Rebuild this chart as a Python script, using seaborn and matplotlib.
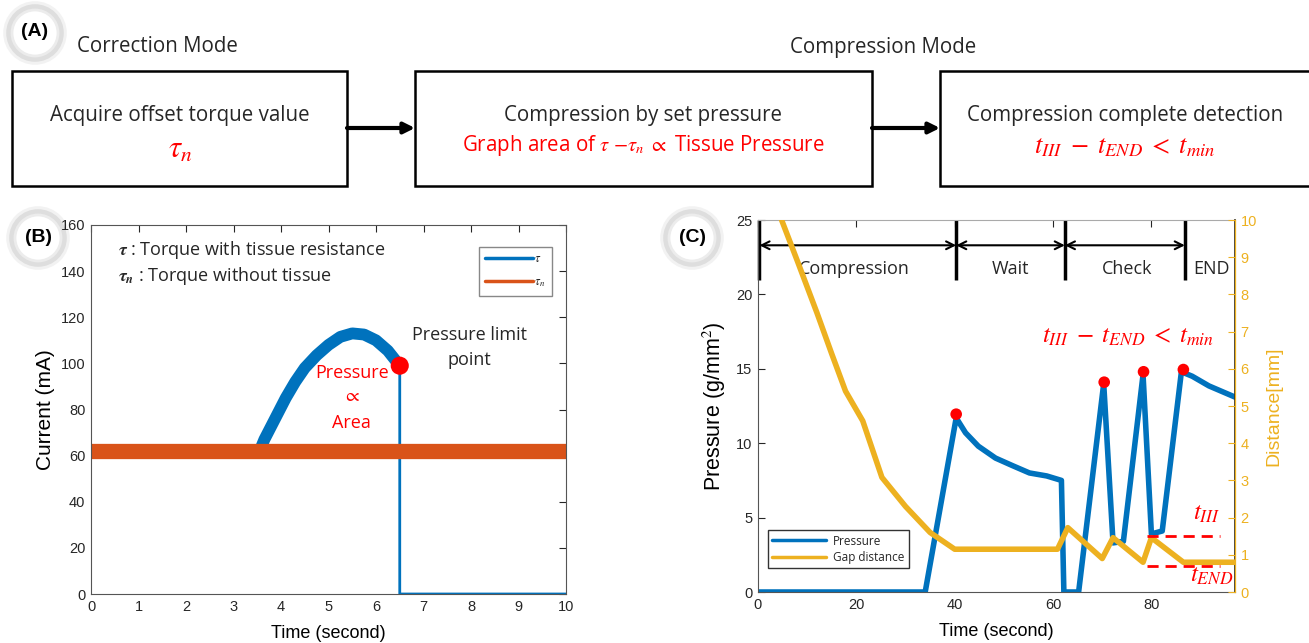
import numpy as np
import pandas as pd
import matplotlib
matplotlib.use("Agg")
import matplotlib.pyplot as plt
import seaborn as sns
from matplotlib.patches import Rectangle, Circle
from matplotlib.lines import Line2D

# ---------------- data ----------------
# Panel B : current vs time
tau_time = [0, 3.55, 3.65, 3.8, 3.95, 4.1, 4.3, 4.5, 4.75, 5.0, 5.25, 5.5,
            5.75, 6.0, 6.25, 6.5, 6.5, 10]
tau_current = [62, 62, 67, 73, 79, 85, 92, 98, 103.5, 108, 111.5, 113,
               112.5, 110, 105.5, 99, 0, 0]
taun_time = [0, 10]
taun_current = [62, 62]
limit_time = [6.5]
limit_current = [99]

# Panel C : pressure & gap distance vs time
p_time = [0, 34, 40.3, 42.2, 44.8, 48.3, 51.7, 55.2, 58.7, 61.7, 62.2, 65.2,
          70.3, 72.2, 74.3, 78.3, 80.0, 82.2, 86.1, 88.3, 91.7, 97]
p_value = [0, 0, 11.7, 10.7, 9.8, 9.0, 8.5, 8.0, 7.8, 7.5, 0, 0,
           14.0, 3.3, 3.4, 14.6, 3.9, 4.1, 14.8, 14.5, 13.85, 13.1]
gap_time = [4.8, 8, 12, 15, 17.8, 21.3, 25.2, 30, 35, 40, 60.9, 63, 70,
            72.2, 78.3, 80, 86.5, 97]
gap_dist = [10, 8.9, 7.5, 6.4, 5.4, 4.6, 3.08, 2.3, 1.6, 1.15, 1.15, 1.73,
            0.9, 1.46, 0.8, 1.46, 0.8, 0.8]
peak_time = [40.3, 70.4, 78.4, 86.5]
peak_value = [11.95, 14.1, 14.8, 14.95]
phase_bounds = [0.3, 40.3, 62.4, 86.8]
phase_names = ["Compression", "Wait", "Check", "END"]
t3_level = 1.5      # distance [mm]
tend_level = 0.7    # distance [mm]

# ---------------- style ----------------
sns.set_theme(style="white")
plt.rcParams['font.family'] = ['Liberation Sans', 'DejaVu Sans']
plt.rcParams['mathtext.fontset'] = 'stix'

BLUE = '#0072BD'
ORANGE = '#D95319'
YELLOW = '#EDB120'
RED = '#FF0000'
TXT = 'Open Sans'
GRAY = '#262626'

W, H = 1309, 643
fig = plt.figure(figsize=(W / 100, H / 100), dpi=100)

# overlay axes in pixel coordinates (panel A + panel labels)
ax0 = fig.add_axes([0, 0, 1, 1])
ax0.set_xlim(0, W)
ax0.set_ylim(H, 0)
ax0.axis('off')

def label_circle(cx, cy, txt):
    for r, c, lw in [(29, '#f2f2f2', 4), (26, '#dedede', 4), (23, '#ececec', 2)]:
        ax0.add_patch(Circle((cx, cy), r, fc='none', ec=c, lw=lw))
    ax0.add_patch(Circle((cx, cy), 21, fc='white', ec='none'))
    ax0.text(cx, cy - 1, txt, ha='center', va='center', fontsize=14,
             fontweight='bold', color='black')

label_circle(35, 33, '(A)')
label_circle(38, 238, '(B)')
label_circle(692, 238, '(C)')

FA = 14.8
ax0.text(77, 47, 'Correction Mode', fontsize=FA, family=TXT, va='center', ha='left')
ax0.text(883, 47, 'Compression Mode', fontsize=FA, family=TXT, va='center', ha='center')

boxes = [(12, 347), (415, 872), (940, 1315)]
for x0, x1 in boxes:
    ax0.add_patch(Rectangle((x0, 71), x1 - x0, 115, fc='white', ec='black', lw=1.8))
for xa, xb in [(347, 415), (872, 940)]:
    ax0.annotate('', xy=(xb, 128), xytext=(xa, 128),
                 arrowprops=dict(arrowstyle='-|>', lw=3, color='black',
                                 mutation_scale=16, shrinkA=0, shrinkB=0))

ax0.text(180, 116, 'Acquire offset torque value', fontsize=FA, family=TXT,
         ha='center', va='center')
ax0.text(180, 150, r'$\tau_n$', fontsize=22, color=RED, ha='center', va='center')
ax0.text(643, 116, 'Compression by set pressure', fontsize=FA, family=TXT,
         ha='center', va='center')
ax0.text(643, 145, r'Graph area of $\tau\ {-}\tau_n$ $\propto$ Tissue Pressure',
         fontsize=FA, family=TXT, color=RED, ha='center', va='center')
ax0.text(1125, 116, 'Compression complete detection', fontsize=FA, family=TXT,
         ha='center', va='center')
ax0.text(1125, 147, r'$t_{III}\;-\;t_{END}\;<\;t_{min}$', fontsize=19, color=RED,
         ha='center', va='center')

# ---------------- panel B ----------------
axB = fig.add_axes([91 / W, (H - 594) / H, (566 - 91) / W, (594 - 225) / H])
sns.lineplot(x=tau_time, y=tau_current, ax=axB, color=BLUE, lw=2,
             sort=False, estimator=None, label=r'$\tau$')
sns.lineplot(x=tau_time[1:16], y=tau_current[1:16], ax=axB, color=BLUE, lw=8.5,
             sort=False, estimator=None, legend=False)
sns.lineplot(x=taun_time, y=taun_current, ax=axB, color=ORANGE, lw=11,
             sort=False, estimator=None, label=r'$\tau_n$')
sns.scatterplot(x=limit_time, y=limit_current, ax=axB, color=RED, s=170,
                edgecolor='none', zorder=5, legend=False)
axB.set_xlim(0, 10)
axB.set_ylim(0, 160)
axB.set_xticks(range(0, 11))
axB.set_yticks(range(0, 161, 20))
axB.set_xlabel('Time (second)', fontsize=13, color='black', labelpad=8)
axB.set_ylabel('Current (mA)', fontsize=15, color='black', labelpad=4)
axB.tick_params(direction='in', top=True, right=True, length=5, width=0.8,
                labelsize=10.5, labelcolor=GRAY, color=GRAY, pad=4)
for s in axB.spines.values():
    s.set_color('#555555')
    s.set_linewidth(0.8)
leg = axB.legend(loc='upper right', bbox_to_anchor=(0.983, 0.957), fontsize=9,
                 handlelength=3.8, frameon=True, fancybox=False, edgecolor='#888888',
                 framealpha=1, borderpad=0.5, labelspacing=0.9, handletextpad=0.1)
for ln in leg.get_lines():
    ln.set_linewidth(2.5)

axB.text(0.56, 149, r'$\boldsymbol{\tau}$ : Torque with tissue resistance',
         fontsize=13, family=TXT, va='center')
axB.text(0.56, 138, r'$\boldsymbol{\tau}_{\boldsymbol{n}}$ : Torque without tissue',
         fontsize=13, family=TXT, va='center')
axB.text(5.49, 96, 'Pressure', fontsize=13, family=TXT, color=RED, ha='center', va='center')
axB.text(5.49, 85.5, r'$\propto$', fontsize=14, color=RED, ha='center', va='center')
axB.text(5.49, 74, 'Area', fontsize=13, family=TXT, color=RED, ha='center', va='center')
axB.text(7.96, 112.5, 'Pressure limit', fontsize=13, family=TXT, ha='center', va='center')
axB.text(7.96, 101.3, 'point', fontsize=13, family=TXT, ha='center', va='center')

# ---------------- panel C ----------------
axC = fig.add_axes([758 / W, (H - 592) / H, (1235 - 758) / W, (592 - 220) / H])
ax2 = axC.twinx()
sns.lineplot(x=p_time, y=p_value, ax=axC, color=BLUE, lw=4, sort=False,
             estimator=None, legend=False)
sns.scatterplot(x=peak_time, y=peak_value, ax=axC, color=RED, s=70,
                edgecolor='none', zorder=5, legend=False)
sns.lineplot(x=gap_time, y=gap_dist, ax=ax2, color=YELLOW, lw=4, sort=False,
             estimator=None, legend=False)
axC.set_xlim(0, 97)
axC.set_ylim(0, 25)
ax2.set_ylim(0, 10)
axC.set_xticks([0, 20, 40, 60, 80])
axC.set_yticks([0, 5, 10, 15, 20, 25])
ax2.set_yticks(range(0, 11))
axC.set_xlabel('Time (second)', fontsize=13, color='black', labelpad=8)
axC.set_ylabel('Pressure (g/mm$^2$)', fontsize=15.5, color='black', labelpad=6)
ax2.set_ylabel('Distance[mm]', fontsize=14, color=YELLOW, labelpad=6)
axC.tick_params(direction='in', top=True, length=5, width=0.8, labelsize=10.5,
                labelcolor=GRAY, color=GRAY, pad=4)
ax2.tick_params(direction='in', length=5, width=0.8, labelsize=10.5,
                labelcolor=YELLOW, color=YELLOW, pad=4)
for s in ['left', 'bottom', 'top']:
    axC.spines[s].set_color('#555555')
    axC.spines[s].set_linewidth(0.8)
axC.spines['top'].set_color('#aaaaaa')
ax2.spines['right'].set_color(YELLOW)
ax2.spines['right'].set_linewidth(0.9)
for s in ['left', 'bottom', 'top']:
    ax2.spines[s].set_visible(False)

# phase markers
for xb in phase_bounds:
    axC.plot([xb, xb], [21.0, 25], color='black', lw=2.5, clip_on=False,
             solid_capstyle='butt')
for xa, xb in zip(phase_bounds[:-1], phase_bounds[1:]):
    axC.annotate('', xy=(xb, 23.3), xytext=(xa, 23.3),
                 arrowprops=dict(arrowstyle='<->', lw=1.5, color='black',
                                 mutation_scale=14, shrinkA=0, shrinkB=0))
label_x = [19.6, 51.3, 75.0, 92.2]
for lx, name in zip(label_x, phase_names):
    axC.text(lx, 21.7, name, fontsize=13, family=TXT, ha='center', va='center')

# threshold lines
ax2.plot([79.1, 93.9], [t3_level, t3_level], color=RED, lw=2, ls=(0, (4, 2.5)), zorder=6)
ax2.plot([79.1, 93.9], [tend_level, tend_level], color=RED, lw=2, ls=(0, (4, 2.5)), zorder=6)
axC.text(91.3, 5.3, r'$t_{III}$', fontsize=18, color=RED, ha='center', va='center')
ax2.text(92.2, 0.45, r'$t_{END}$', fontsize=18, color=RED, ha='center', va='center')
axC.text(75.2, 17.2, r'$t_{III}\;-\;t_{END}\;<\;t_{min}$', fontsize=18, color=RED,
         ha='center', va='center')

# legend
handles = [Line2D([], [], color=BLUE, lw=2.5), Line2D([], [], color=YELLOW, lw=2.5)]
legC = ax2.legend(handles, ['Pressure', 'Gap distance'], loc='lower left',
                  bbox_to_anchor=(0.008, 0.048), handlelength=4.6,
                  frameon=True, fancybox=False, edgecolor='#333333', framealpha=1,
                  borderpad=0.35, labelspacing=0.3, handletextpad=0.6,
                  prop={'family': TXT, 'size': 8.5})

fig.savefig('out.png', dpi=100)
